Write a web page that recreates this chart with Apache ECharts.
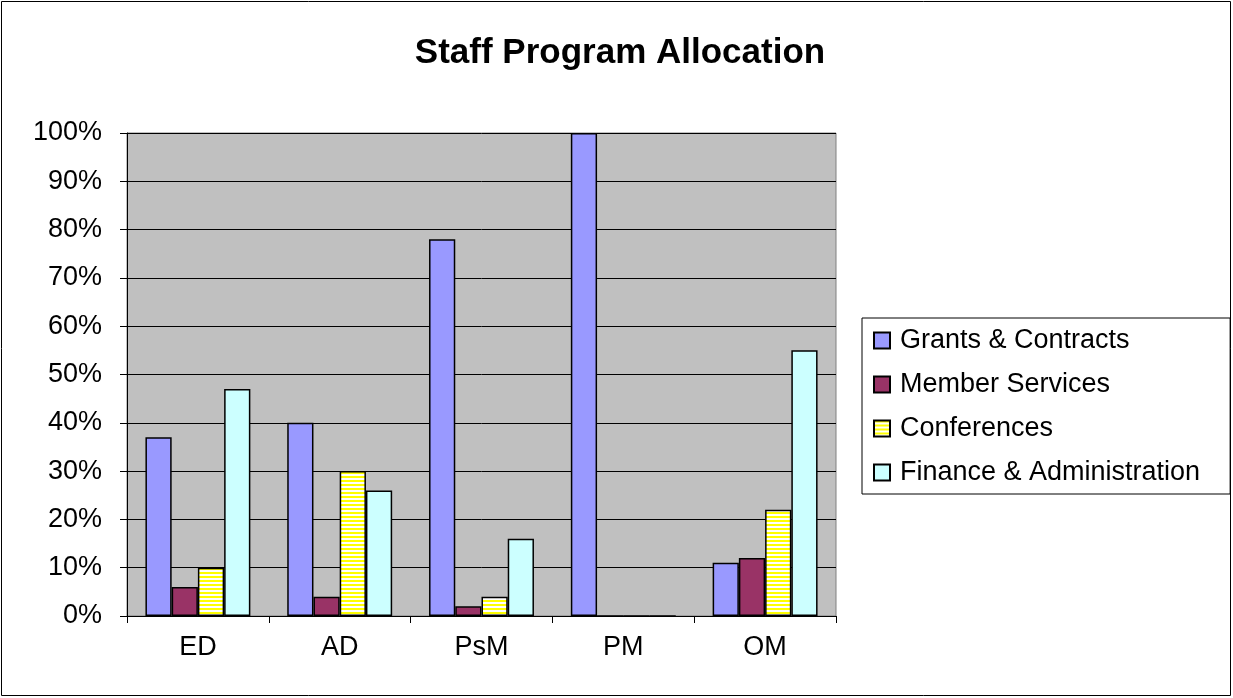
<!DOCTYPE html>
<html>
<head>
<meta charset="utf-8">
<script src="https://cdn.jsdelivr.net/npm/echarts@6/dist/echarts.min.js"></script>
<style>
  html, body { margin: 0; padding: 0; background: #fff; }
  #chart { width: 1233px; height: 698px; }
</style>
</head>
<body>
<div id="chart"></div>
<script>
const categories = ['ED', 'AD', 'PsM', 'PM', 'OM'];
const grantsContracts = [37, 40, 78, 100, 11];
const memberServices = [6, 4, 2, 0, 12];
const conferences = [10, 30, 4, 0, 22];
const financeAdmin = [47, 26, 16, 0, 55];

// horizontal yellow/white stripes for Conferences
function stripes() {
  const c = document.createElement('canvas');
  c.width = 4; c.height = 4;
  const ctx = c.getContext('2d');
  ctx.fillStyle = '#ffffff';
  ctx.fillRect(0, 0, 4, 4);
  ctx.fillStyle = '#ffff00';
  ctx.fillRect(0, 0, 4, 2);
  return c;
}

const chart = echarts.init(document.getElementById('chart'));
const font = 'Arial, "Liberation Sans", sans-serif';

function bar(name, data, color) {
  return {
    name: name,
    type: 'bar',
    data: data,
    barGap: '0%',
    barCategoryGap: '26%',
    itemStyle: { color: color, borderColor: '#000', borderWidth: 1.5 }
  };
}

chart.setOption({
  animation: false,
  graphic: [{
    type: 'rect',
    shape: { x: 1.5, y: 1.5, width: 1229, height: 694 },
    style: { fill: 'none', stroke: '#000', lineWidth: 1 },
    silent: true
  }],
  title: {
    text: 'Staff Program Allocation',
    left: 620,
    textAlign: 'center',
    top: 36,
    padding: 0,
    textStyle: { fontFamily: font, fontSize: 35, fontWeight: 'bold', color: '#000' }
  },
  legend: {
    orient: 'vertical',
    left: 862,
    top: 318,
    padding: [9, 30, 8, 11],
    icon: 'rect',
    itemWidth: 16,
    itemHeight: 16,
    itemGap: 17,
    borderColor: '#000',
    borderWidth: 1,
    textStyle: { fontFamily: font, fontSize: 27, color: '#000', lineHeight: 27, padding: [0, 0, 0, 5] },
    data: ['Grants & Contracts', 'Member Services', 'Conferences', 'Finance & Administration']
  },
  grid: {
    left: 127,
    right: 397,
    top: 133,
    bottom: 82,
    show: true,
    backgroundColor: '#c0c0c0',
    borderColor: '#808080',
    borderWidth: 1
  },
  xAxis: {
    type: 'category',
    data: categories,
    axisLine: { lineStyle: { color: '#000', width: 1 } },
    axisTick: { show: true, length: 7, lineStyle: { color: '#000' } },
    axisLabel: { fontFamily: font, fontSize: 27, color: '#000', margin: 18 }
  },
  yAxis: {
    type: 'value',
    min: 0,
    max: 100,
    interval: 10,
    axisLine: { show: true, lineStyle: { color: '#000', width: 1 } },
    axisTick: { show: true, length: 7, lineStyle: { color: '#000' } },
    axisLabel: { fontFamily: font, fontSize: 27, color: '#000', margin: 25, formatter: '{value}%' },
    splitLine: { show: true, lineStyle: { color: '#000', width: 1 } }
  },
  series: [
    bar('Grants & Contracts', grantsContracts, '#9999ff'),
    bar('Member Services', memberServices, '#993366'),
    bar('Conferences', conferences, { image: stripes(), repeat: 'repeat' }),
    bar('Finance & Administration', financeAdmin, '#ccffff')
  ]
});
</script>
</body>
</html>
